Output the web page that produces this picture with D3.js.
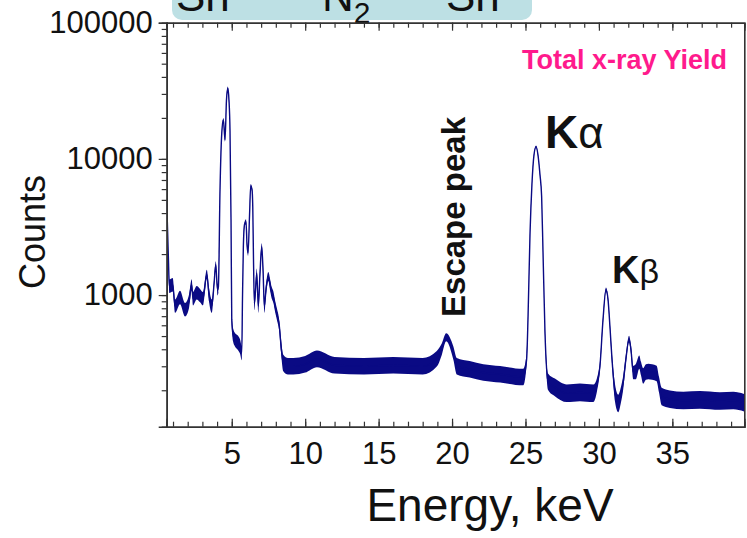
<!DOCTYPE html>
<html>
<head>
<meta charset="utf-8">
<script src="https://cdn.jsdelivr.net/npm/d3@7"></script>
<style>
  body { margin: 0; background: #fff; }
  svg { display: block; font-family: Arial, "Liberation Sans", sans-serif; }
</style>
</head>
<body>
<div id="chart"></div>
<script>
// spectrum: energy (keV), counts, relative noise half-width
const energy = [0.57, 0.69, 0.75, 0.98, 1.14, 1.48, 1.82, 2.09, 2.27, 2.36, 2.61, 2.84, 3.04, 3.30, 3.45, 3.64, 3.79, 3.91, 4.03, 4.09,
  4.20, 4.32, 4.43, 4.54, 4.64, 4.73, 4.81, 4.88, 4.95, 5.00, 5.09, 5.22, 5.43, 5.56, 5.68, 5.73, 5.79, 5.87, 5.97, 6.04,
  6.11, 6.21, 6.29, 6.38, 6.43, 6.48, 6.54, 6.62, 6.70, 6.81, 6.92, 7.04, 7.13, 7.22, 7.33, 7.49, 7.61, 7.72, 7.84, 7.95,
  8.08, 8.24, 8.35, 8.51, 8.83, 9.19, 10.0, 10.8, 12.0, 14.0, 16.0, 18.0, 18.96, 19.3, 19.6, 20.09, 20.32, 21.2, 22.13, 23.27,
  24.85, 25.08, 25.17, 25.31, 25.44, 25.58, 25.72, 25.85, 25.99, 26.1, 26.19, 26.33, 26.55, 27.0, 27.81, 28.71, 29.62, 29.87, 30.07, 30.28,
  30.48, 30.62, 30.75, 30.89, 31.1, 31.32, 31.5, 31.66, 31.84, 32.05, 32.18, 32.34, 32.52, 32.75, 32.86, 33.02, 33.2, 33.36, 33.62, 33.93,
  34.09, 34.27, 34.84, 35.75, 36.88, 38.24, 39.15, 39.88];
const counts = [5000, 1800, 1160, 1190, 830, 960, 780, 900, 1190, 940, 1040, 990, 940, 1420, 1010, 830, 1190, 1670, 1094, 1150,
  5900, 15450, 19400, 13800, 27000, 33000, 27000, 16300, 3580, 660, 510, 470, 445, 420, 375, 930, 2270, 3300, 3460, 2330,
  2040, 3840, 6340, 5950, 4470, 1830, 870, 1094, 1450, 830, 1420, 2270, 1530, 830, 1094, 1370, 1190, 1040, 960, 830,
  720, 590, 430, 317, 300, 300, 310, 340, 305, 300, 305, 300, 340, 400, 490, 375, 300, 285, 270, 262,
  250, 340, 660, 2850, 6500, 10700, 12300, 10700, 7600, 5300, 2150, 525, 230, 210, 190, 193, 190, 220, 300, 660,
  1094, 930, 590, 340, 190, 160, 185, 230, 340, 475, 400, 270, 275, 322, 290, 255, 272, 275, 272, 265,
  220, 180, 172, 168, 170, 167, 168, 162];
const noise = [0.03, 0.05, 0.12, 0.12, 0.12, 0.12, 0.12, 0.12, 0.1, 0.12, 0.12, 0.12, 0.12, 0.08, 0.12, 0.12, 0.08, 0.06, 0.1, 0.1,
  0.04, 0.03, 0.03, 0.03, 0.03, 0.03, 0.03, 0.03, 0.04, 0.1, 0.12, 0.12, 0.13, 0.13, 0.13, 0.05, 0.04, 0.04, 0.04, 0.05,
  0.05, 0.04, 0.03, 0.03, 0.04, 0.06, 0.12, 0.1, 0.08, 0.12, 0.08, 0.06, 0.08, 0.12, 0.1, 0.08, 0.1, 0.1, 0.1, 0.1,
  0.1, 0.1, 0.12, 0.15, 0.15, 0.15, 0.15, 0.15, 0.15, 0.15, 0.15, 0.15, 0.14, 0.1, 0.07, 0.12, 0.15, 0.15, 0.15, 0.15,
  0.15, 0.1, 0.05, 0.03, 0.02, 0.02, 0.02, 0.02, 0.02, 0.02, 0.03, 0.06, 0.15, 0.16, 0.16, 0.16, 0.16, 0.12, 0.08, 0.05,
  0.04, 0.04, 0.05, 0.08, 0.16, 0.16, 0.14, 0.12, 0.08, 0.06, 0.08, 0.12, 0.14, 0.12, 0.12, 0.14, 0.14, 0.14, 0.14, 0.14,
  0.14, 0.16, 0.16, 0.16, 0.16, 0.16, 0.16, 0.16];

const xMajorTicks = [5, 10, 15, 20, 25, 30, 35];
const yMajorTicks = [1000, 10000, 100000];

const width = 747, height = 538;
const margin = { top: 22.7, right: 2.7, bottom: 111.3, left: 166.7 };
const navy = "#0a0a84";
const axisColor = "#333";

const svg = d3.select("#chart").append("svg")
  .attr("width", width)
  .attr("height", height);

const x = d3.scaleLinear()
  .domain([0.57, 39.9])
  .range([margin.left, width - margin.right]);

const y = d3.scaleLog()
  .domain([108, 100000])
  .range([height - margin.bottom, margin.top]);

// teal title box, cut off at the top of the picture
const header = svg.append("g");
header.append("rect")
  .attr("x", 172).attr("y", -40)
  .attr("width", 360).attr("height", 60)
  .attr("rx", 10)
  .attr("fill", "#bde0e4");
const title = header.append("text")
  .attr("y", 11)
  .attr("font-size", 44)
  .attr("fill", "#111");
title.append("tspan").attr("x", 176).text("Sn");
title.append("tspan").attr("x", 322).text("N");
title.append("tspan").attr("font-size", 30).attr("dy", 12).text("2");
title.append("tspan").attr("x", 446).attr("dy", -12).text("Sn");

// spectrum
svg.append("clipPath").attr("id", "plot-clip")
  .append("rect")
  .attr("x", x.range()[0]).attr("y", margin.top)
  .attr("width", x.range()[1] - x.range()[0])
  .attr("height", height - margin.bottom - margin.top);

const pts = energy.map((e, i) => ({ e, c: counts[i], n: noise[i] }));

const band = d3.area()
  .x(d => x(d.e))
  .y0(d => y(d.c / (1 + d.n)))
  .y1(d => y(d.c * (1 + d.n)))
  .curve(d3.curveMonotoneX);

const line = d3.line()
  .x(d => x(d.e))
  .y(d => y(d.c))
  .curve(d3.curveMonotoneX);

const plot = svg.append("g").attr("clip-path", "url(#plot-clip)");
plot.append("path")
  .datum(pts)
  .attr("d", band)
  .attr("fill", navy);
plot.append("path")
  .datum(pts)
  .attr("d", line)
  .attr("fill", "none")
  .attr("stroke", navy)
  .attr("stroke-width", 1.4);

// axes
const yMinor = [];
for (let p = 100; p < 100000; p *= 10) {
  for (let k = 1; k < 10; k++) if (p * k >= 108) yMinor.push(p * k);
}

function styleAxis(g) {
  g.select(".domain").attr("stroke", axisColor).attr("stroke-width", 1.6);
  g.selectAll(".tick line").attr("stroke", axisColor).attr("stroke-width", 1.2);
  g.selectAll(".tick text").attr("fill", "#111").attr("font-size", 31);
}

svg.append("g")
  .attr("transform", `translate(${margin.left},0)`)
  .call(d3.axisLeft(y).tickValues(yMinor).tickSize(5).tickFormat(""))
  .call(styleAxis);
svg.append("g")
  .attr("transform", `translate(${margin.left},0)`)
  .call(d3.axisLeft(y).tickValues(yMajorTicks).tickSize(8).tickPadding(6).tickFormat(d3.format("d")))
  .call(styleAxis);

const xMinor = d3.range(1, 40);
const bottomY = height - margin.bottom;
svg.append("g")
  .attr("transform", `translate(0,${bottomY})`)
  .call(d3.axisBottom(x).tickValues(xMinor).tickSize(-5).tickFormat(""))
  .call(styleAxis);
svg.append("g")
  .attr("transform", `translate(0,${bottomY})`)
  .call(d3.axisBottom(x).tickValues(xMajorTicks).tickSize(-8).tickPadding(15))
  .call(styleAxis);

svg.append("g")
  .attr("transform", `translate(0,${margin.top})`)
  .call(d3.axisTop(x).tickValues(xMinor).tickSize(-5).tickFormat(""))
  .call(styleAxis);
svg.append("g")
  .attr("transform", `translate(0,${margin.top})`)
  .call(d3.axisTop(x).tickValues(xMajorTicks).tickSize(-8).tickFormat(""))
  .call(styleAxis);

svg.append("g")
  .attr("transform", `translate(${width - margin.right},0)`)
  .call(d3.axisRight(y).tickValues([]).tickSizeOuter(0))
  .call(styleAxis);

// axis titles
svg.append("text")
  .attr("x", 490).attr("y", 521)
  .attr("text-anchor", "middle")
  .attr("font-size", 46)
  .attr("fill", "#111")
  .text("Energy, keV");

svg.append("text")
  .attr("transform", "translate(45,232) rotate(-90)")
  .attr("text-anchor", "middle")
  .attr("font-size", 36)
  .attr("fill", "#111")
  .text("Counts");

// annotations
svg.append("text")
  .attr("x", 727).attr("y", 69)
  .attr("text-anchor", "end")
  .attr("font-size", 27)
  .attr("font-weight", "bold")
  .attr("fill", "#ff1a8c")
  .text("Total x-ray Yield");

svg.append("text")
  .attr("transform", "translate(465,217) rotate(-90)")
  .attr("text-anchor", "middle")
  .attr("font-size", 33)
  .attr("font-weight", "bold")
  .attr("fill", "#111")
  .text("Escape peak");

const ka = svg.append("text")
  .attr("x", 545).attr("y", 148)
  .attr("fill", "#111");
ka.append("tspan").attr("font-size", 46).attr("font-weight", "bold").text("K");
ka.append("tspan").attr("font-size", 44).text("α");

const kb = svg.append("text")
  .attr("x", 612).attr("y", 283)
  .attr("fill", "#111");
kb.append("tspan").attr("font-size", 38).attr("font-weight", "bold").text("K");
kb.append("tspan").attr("font-size", 34).text("β");
</script>
</body>
</html>
